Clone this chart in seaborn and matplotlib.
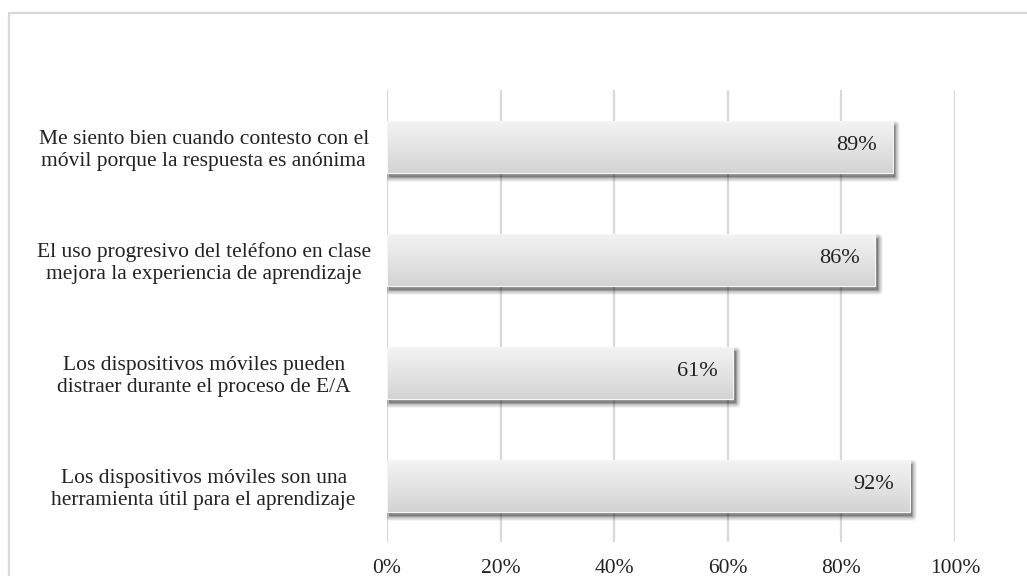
import numpy as np
import pandas as pd
import matplotlib
matplotlib.use("Agg")
import matplotlib.pyplot as plt
import matplotlib.transforms as mtransforms
from matplotlib.lines import Line2D
from matplotlib.patches import Rectangle
import seaborn as sns

# data
STATEMENTS = [
    "Me siento bien cuando contesto con el\nmóvil porque la respuesta es anónima",
    "El uso progresivo del teléfono en clase\nmejora la experiencia de aprendizaje",
    "Los dispositivos móviles pueden\ndistraer durante el proceso de E/A",
    "Los dispositivos móviles son una\nherramienta útil para el aprendizaje",
]
AGREE_PCT = [89, 86, 61, 92]
X_TICKS = [0, 20, 40, 60, 80, 100]
X_TICKLABELS = [f"{t}%" for t in X_TICKS]

sns.set_theme(style="white")
plt.rcParams["font.family"] = ["Liberation Serif", "DejaVu Serif"]
FS = 15.5
GRID = "#d9d9d9"

df = pd.DataFrame({"statement": STATEMENTS, "pct": AGREE_PCT})

fig = plt.figure(figsize=(10.27, 5.76), dpi=100)
ax = fig.add_axes([0.3768, 0.059, 0.5531, 0.7847])

sns.barplot(data=df, x="pct", y="statement", orient="h", color="#e2e2e2",
            width=0.46, ax=ax, zorder=3, linewidth=0)

ax.set_xlim(0, 100)
ax.set_ylim(3.5, -0.5)
for t in X_TICKS:
    ax.axvline(t, color=GRID, lw=1.6, zorder=0)

# soft drop shadow + vertical gradient on each bar
grad = np.linspace(0, 1, 256).reshape(-1, 1)
cmap = matplotlib.colors.LinearSegmentedColormap.from_list(
    "bar", ["#f3f3f3", "#e4e4e4", "#d3d3d3"])
shadow = mtransforms.offset_copy(ax.transData, fig=fig, x=1.5, y=-3.0, units="points")
for p in ax.patches:
    x0, y0 = p.get_x(), p.get_y()
    w, h = p.get_width(), p.get_height()
    for k in range(1, 9):
        ax.add_patch(Rectangle((x0, y0), w, h, transform=shadow, facecolor="black",
                               edgecolor="black", lw=0.8 * k, alpha=0.045,
                               joinstyle="round", zorder=2))
    im = ax.imshow(grad, cmap=cmap, aspect="auto", extent=(x0, x0 + w, y0 + h, y0),
                   zorder=3.5, interpolation="bicubic")
    im.set_clip_path(p)
    ax.add_patch(Rectangle((x0, y0), w, h, facecolor="none", edgecolor="#f6f6f6",
                           lw=0.8, zorder=3.6))

for i, v in enumerate(AGREE_PCT):
    ax.annotate(f"{v}%", xy=(v, i), xytext=(-11.5, 1), textcoords="offset points",
                ha="right", va="center", fontsize=FS + 0.5, color="#222222", zorder=5)

ax.set_xticks(X_TICKS)
ax.set_xticklabels(X_TICKLABELS, fontsize=FS, color="#222222")
ax.set_yticks(range(len(STATEMENTS)))
ax.set_yticklabels(STATEMENTS, fontsize=FS, color="#222222", ha="center",
                   multialignment="center")
ax.tick_params(axis="y", length=0, pad=132)
ax.tick_params(axis="x", length=0, pad=12)
ax.set_xlabel("")
ax.set_ylabel("")
sns.despine(ax=ax, left=True, bottom=True)

# chart-area frame (only top and left edges fall inside the image)
fig.add_artist(Line2D([9 / 1027, 1.0], [1 - 13 / 576] * 2, color=GRID, lw=1.6))
fig.add_artist(Line2D([9 / 1027] * 2, [0.0, 1 - 13 / 576], color=GRID, lw=1.6))

fig.savefig("out.png", dpi=100)
